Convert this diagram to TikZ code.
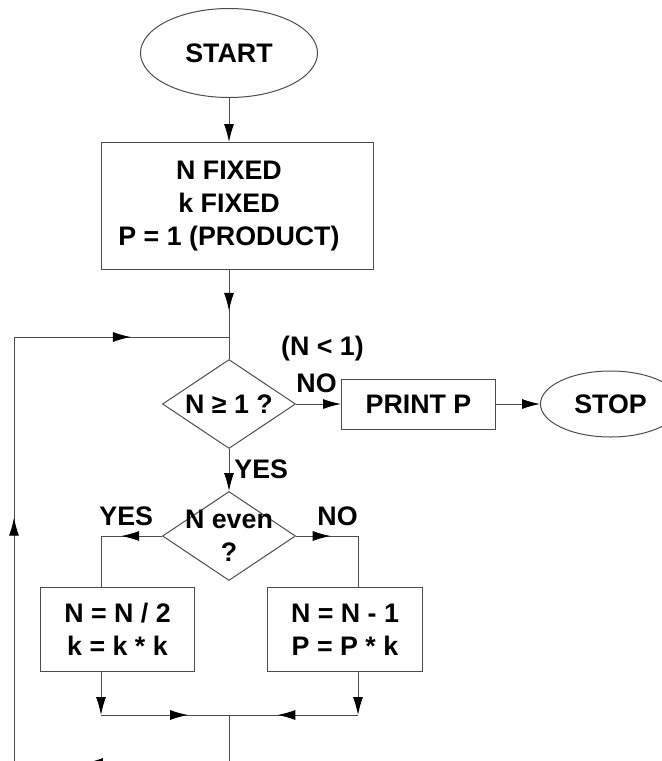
\documentclass[tikz,border=0pt]{standalone}
\usepackage{fontspec}
\setmainfont{Liberation Sans}
\usetikzlibrary{positioning}
\usetikzlibrary{shapes.geometric,arrows.meta,decorations.markings}
\definecolor{lineg}{gray}{0.3}

\begin{document}
\begin{tikzpicture}[
    >={Latex[length=9pt,width=5pt,color=black]},
    every node/.style={font=\bfseries\fontsize{13.4}{16.5}\selectfont, inner sep=0pt},
    term/.style={draw=lineg, ellipse, line width=0.5pt},
    stepbox/.style={draw=lineg, rectangle, align=center, line width=0.5pt},
    ask/.style={draw=lineg, diamond, align=center, inner sep=-20pt, minimum width=66.5pt, minimum height=44.5pt, line width=0.5pt},
    line/.style={draw=lineg, line width=0.5pt},
    midarr/.style={postaction={decorate}, decoration={markings, mark=at position #1 with {\arrow{>}}}}
  ]
  \useasboundingbox (0,0) rectangle (331pt,-380.5pt);

  \node (start) [term, minimum width=88.5pt, minimum height=44.5pt] at (114.5pt,-26.5pt) {START};
  \node (init) [stepbox, below=22pt of start, xshift=4pt, minimum width=136pt, minimum height=63.5pt] {\mbox{N FIXED}\kern8pt\\\mbox{k FIXED}\kern8pt\\\mbox{P = 1 (PRODUCT)}\kern8pt};
  \node (d1) [ask, below=44.5pt of init, xshift=-4pt] {N ≥ 1 ?};
  \coordinate [above=11pt of d1] (c1);
  \coordinate [left=107.5pt of c1] (lt);
  \node (print) [stepbox, right=22.5pt of d1, minimum width=77pt, minimum height=25pt] {PRINT P};
  \node (stop) [term, right=22pt of print, minimum width=70pt, minimum height=33pt] {STOP};
  \node (no1) [above right=5.5pt and 0pt of d1.east] {NO};
  \node (cond) [above=6pt of no1, xshift=3pt] {(N < 1)};
  \node (yes1) [below right=5pt and 2.5pt of d1.south] {YES};
  \node (d2) [ask, below=21pt of d1] {N even\\?};
  \coordinate [left=30.5pt of d2.west] (bl);
  \coordinate [right=31pt of d2.east] (br);
  \node (yes2) [above right=5pt and -1pt of bl] {YES};
  \node (no2) [above left=5pt and 0pt of br] {NO};
  \node (half) [stepbox, below left=3pt and 17pt of d2.south, minimum width=77pt, minimum height=42pt] {N = N / 2\\k = k * k};
  \node (odd) [stepbox, below right=3pt and 19pt of d2.south, minimum width=77.5pt, minimum height=42pt] {N = N - 1\\P = P * k};
  \coordinate [below=67pt of d2] (c2);
  \coordinate [below=24pt of c2] (c3);
  \coordinate [left=107.5pt of c3] (c4);

  \draw[line,->] (start) -- (start |- init.north);
  \draw[line,midarr=0.61] (init.south -| c1) -- (c1);
  \draw[line] (c1) -- (d1);
  \draw[line,midarr=0.544] (lt) -- (c1);
  \draw[line,->] (d1) -- (print);
  \draw[line,->] (print) -- (stop);
  \draw[line,->] (d1) -- (d2);
  \draw[line,midarr=0.67] (d2.west) -- (bl);
  \draw[line] (bl) -- (bl |- half.north);
  \draw[line,midarr=0.56] (d2.east) -- (br);
  \draw[line] (br) -- (br |- odd.north);
  \draw[line,->] (half.south -| bl) -- (bl |- c2);
  \draw[line,->] (odd.south -| br) -- (br |- c2);
  \draw[line,midarr=0.68] (bl |- c2) -- (c2);
  \draw[line,midarr=0.625] (br |- c2) -- (c2);
  \draw[line] (c2) -- (c3);
  \draw[line,midarr=0.67] (c3) -- (c4);
  \draw[line,midarr=0.576] (c4) -- (lt);
\end{tikzpicture}
\end{document}
